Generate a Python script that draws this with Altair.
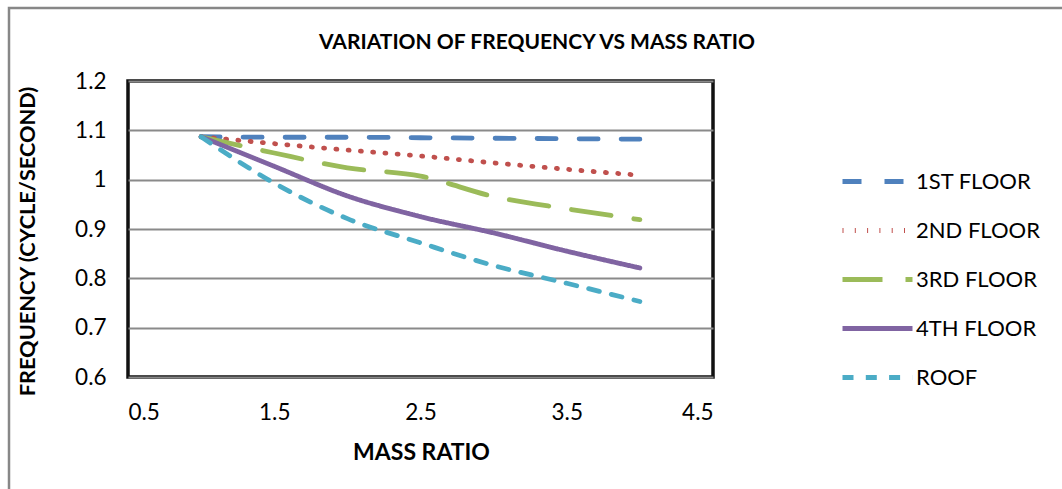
import altair as alt
import pandas as pd

# ---- data ----
mass_ratio = [1.0, 1.5, 2.0, 2.5, 3.0, 3.5, 4.0]
floor1 = [1.087, 1.086, 1.086, 1.085, 1.084, 1.083, 1.082]
floor2 = [1.087, 1.073, 1.060, 1.048, 1.034, 1.021, 1.009]
floor3 = [1.087, 1.054, 1.024, 1.007, 0.966, 0.941, 0.919]
floor4 = [1.087, 1.027, 0.967, 0.925, 0.892, 0.855, 0.821]
roof = [1.087, 0.993, 0.921, 0.872, 0.826, 0.790, 0.753]

series_names = ["1ST FLOOR", "2ND FLOOR", "3RD FLOOR", "4TH FLOOR", "ROOF"]
series_values = [floor1, floor2, floor3, floor4, roof]
colors = ["#4F81BD", "#C0504D", "#9BBB59", "#8064A2", "#4BACC6"]
dashes = [[19, 23], [1, 11.3], [40, 23], [1, 0], [11, 12.3]]

x_ticks = [0.5, 1.5, 2.5, 3.5, 4.5]
y_ticks = [0.6, 0.7, 0.8, 0.9, 1.0, 1.1, 1.2]
chart_title = "VARIATION OF FREQUENCY VS MASS RATIO"

rows = []
for name, vals in zip(series_names, series_values):
    for xv, yv in zip(mass_ratio, vals):
        rows.append({"series": name, "mass": xv, "freq": yv})
df = pd.DataFrame(rows)

FONT = "Lato"
W, H = 585, 296
LEFT, TOP = 128, 81

lines = alt.Chart(df).mark_line(
    strokeWidth=4.8, strokeCap="round", interpolate="monotone"
).encode(
    x=alt.X(
        "mass:Q",
        scale=alt.Scale(domain=[0.5, 4.5], nice=False, zero=False),
        axis=alt.Axis(
            values=x_ticks, format=".1f", grid=False, ticks=False, tickSize=0,
            domain=False, labelFontSize=22.5, labelFont=FONT, labelColor="#000",
            labelBaseline="middle", labelPadding=35,
            title="MASS RATIO", titleFont=FONT, titleFontSize=23,
            titleFontWeight="bold", titleColor="#000", titleX=293, titleY=75,
            titleBaseline="middle", titleAlign="center",
        ),
    ),
    y=alt.Y(
        "freq:Q",
        scale=alt.Scale(domain=[0.6, 1.2], nice=False, zero=False),
        axis=alt.Axis(
            values=y_ticks, format=".1~f", grid=True, gridColor="#8a8a8a",
            gridWidth=1.8, gridOpacity=1, ticks=False, tickSize=0, domain=False,
            labelFontSize=22.5, labelFont=FONT, labelColor="#000", labelPadding=22,
            title="FREQUENCY (CYCLE/SECOND)", titleFont=FONT, titleFontSize=21.7,
            titleFontWeight="bold", titleColor="#000", titleX=-101, titleY=160,
            titleAngle=270, titleBaseline="middle", titleAlign="center",
        ),
    ),
    color=alt.Color(
        "series:N",
        scale=alt.Scale(domain=series_names, range=colors),
        legend=alt.Legend(
            title=None, orient="none", legendX=712, legendY=63,
            symbolType="stroke", symbolSize=4900, symbolStrokeWidth=4.8,
            labelFont=FONT, labelFontSize=22, labelColor="#000",
            labelOffset=1, rowPadding=-2, padding=0,
        ),
    ),
    strokeDash=alt.StrokeDash(
        "series:N",
        scale=alt.Scale(domain=series_names, range=dashes),
        legend=alt.Legend(title=None),
    ),
)

aux_df = pd.DataFrame({"label": [chart_title]})
outer = alt.Chart(aux_df).mark_rect(
    filled=False, stroke="#878787", strokeWidth=2.5
).encode(
    x=alt.value(-119), x2=alt.value(960), y=alt.value(-73), y2=alt.value(500)
)
title_text = alt.Chart(aux_df).mark_text(
    font=FONT, fontSize=21, fontWeight="bold", color="#000",
    align="center", baseline="middle"
).encode(
    text="label:N", x=alt.value(409), y=alt.value(-38)
)

chart = alt.layer(outer, title_text, lines).properties(
    width=W, height=H,
    autosize=alt.AutoSizeParams(type="none"),
    padding={"left": LEFT, "top": TOP, "right": 1062 - LEFT - W, "bottom": 489 - TOP - H},
    background="white",
).configure_view(
    stroke="#111", strokeWidth=3.5
)

chart.save("out.html", embed_options={"renderer": "svg", "actions": False})
